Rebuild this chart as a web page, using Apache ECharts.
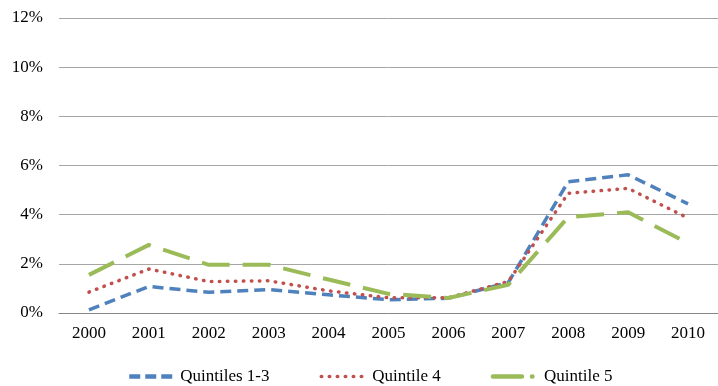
<!DOCTYPE html>
<html>
<head>
<meta charset="utf-8">
<script src="https://cdn.jsdelivr.net/npm/echarts@6/dist/echarts.min.js"></script>
<style>html,body{margin:0;padding:0;background:#fff}#c{width:718px;height:386px}</style>
</head>
<body>
<div id="c"></div>
<script>
var years = ['2000','2001','2002','2003','2004','2005','2006','2007','2008','2009','2010'];
var quintiles13 = [0.13, 1.08, 0.84, 0.95, 0.74, 0.54, 0.60, 1.24, 5.34, 5.62, 4.44];
var quintile4 = [0.85, 1.79, 1.28, 1.31, 0.90, 0.62, 0.62, 1.28, 4.87, 5.07, 3.86];
var quintile5 = [1.55, 2.77, 1.96, 1.96, 1.36, 0.78, 0.61, 1.15, 3.90, 4.10, 2.84];
var yTicks = [0, 2, 4, 6, 8, 10, 12];

var font = 'Liberation Serif';
var chart = echarts.init(document.getElementById('c'));
chart.setOption({
  animation: false,
  backgroundColor: '#fff',
  textStyle: {fontFamily: font},
  grid: {left: 59, right: -3, top: 18, bottom: 73, containLabel: false},
  legend: {
    top: 368,
    left: 127,
    itemWidth: 46,
    itemHeight: 14,
    itemGap: 50,
    padding: 0,
    itemStyle: {opacity: 0},
    textStyle: {fontFamily: font, fontSize: 17, color: '#000'},
    data: [
      {name: 'Quintiles 1-3', lineStyle: {width: 4.5, type: [11, 5]}},
      {name: 'Quintile 4', lineStyle: {width: 3.5, type: [0.5, 7.5], cap: 'round'}},
      {name: 'Quintile 5', lineStyle: {width: 4.5, type: [29, 10, 0.5, 20], cap: 'round'}}
    ]
  },
  xAxis: {
    type: 'category',
    data: years,
    boundaryGap: true,
    axisLine: {show: true, lineStyle: {color: '#868686', width: 1}},
    axisTick: {show: false},
    axisLabel: {color: '#000', fontFamily: font, fontSize: 17, margin: 12}
  },
  yAxis: {
    type: 'value',
    min: 0, max: 12, interval: 2,
    axisLine: {show: false},
    axisTick: {show: false},
    splitLine: {lineStyle: {color: '#A6A6A6', width: 1}},
    axisLabel: {color: '#000', fontFamily: font, fontSize: 17, margin: 16,
      formatter: function (v) { return yTicks.indexOf(v) >= 0 ? v + '%' : ''; }}
  },
  series: [
    {name: 'Quintiles 1-3', type: 'line', data: quintiles13, symbol: 'none',
     itemStyle: {color: '#4F81BD'},
     lineStyle: {color: '#4F81BD', width: 3.5, type: [11, 6], join: 'round'}},
    {name: 'Quintile 4', type: 'line', data: quintile4, symbol: 'none',
     itemStyle: {color: '#C0504D'},
     lineStyle: {color: '#C0504D', width: 3.5, type: [0.5, 7.5], cap: 'round', join: 'round'}},
    {name: 'Quintile 5', type: 'line', data: quintile5, symbol: 'none',
     itemStyle: {color: '#9BBB59'},
     lineStyle: {color: '#9BBB59', width: 4, type: [28, 13], join: 'round'}}
  ]
});
</script>
</body>
</html>
